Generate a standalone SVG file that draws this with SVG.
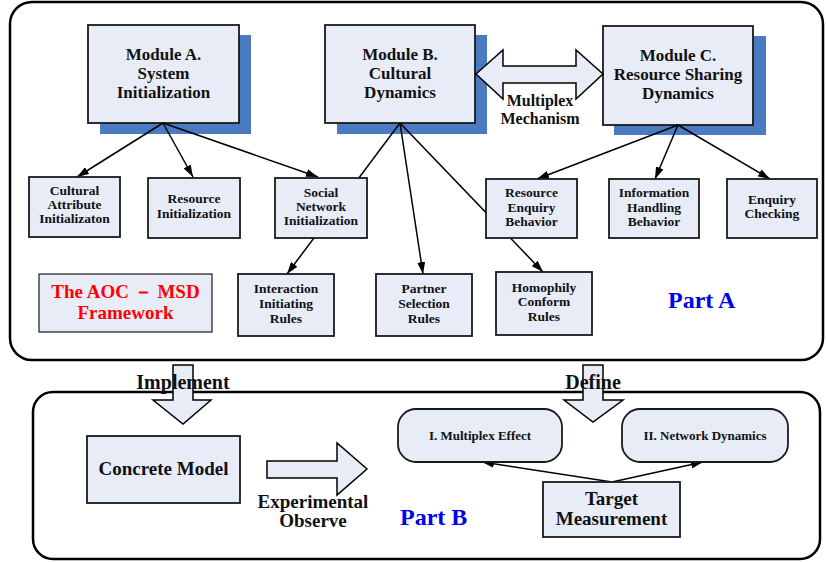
<svg xmlns="http://www.w3.org/2000/svg" width="826" height="562" viewBox="0 0 826 562">
<defs>
<marker id="ah" viewBox="0 0 12 8" refX="12" refY="4" markerWidth="12" markerHeight="8" markerUnits="userSpaceOnUse" orient="auto">
<path d="M0,0 L12,4 L0,8 z" fill="#000"/>
</marker>
</defs>
<style>
.frame{fill:#fff;stroke:#000;stroke-width:2.5}
.box{fill:#e7ecf7;stroke:#1a1a1a;stroke-width:1.8}
.shadow{fill:#4a7abf}
.blk{fill:#e7ecf7;stroke:#000;stroke-width:1.5;stroke-linejoin:miter}
.con{fill:none;stroke:#000;stroke-width:1.5}
text{font-family:'Liberation Serif','Times New Roman','DejaVu Serif',serif;font-weight:700;fill:#111;text-anchor:middle}
.mod{font-size:17px}
.sm{font-size:13.5px}
.md{font-size:19px}
.lab{font-size:20px}
.part{font-size:24px;fill:#0000ee;text-anchor:start}
.red{font-size:19px;fill:#ff0000}
</style>
<rect class="frame" x="10" y="2" width="813" height="358" rx="22"/>
<rect class="frame" x="33" y="392" width="787" height="167" rx="20"/>

<g id="moduleA">
<rect class="shadow" x="100" y="35" width="151" height="99"/>
<rect class="box" x="88" y="25" width="151" height="98"/>
<text class="mod" x="163.5" y="60">Module A.</text>
<text class="mod" x="163.5" y="79">System</text>
<text class="mod" x="163.5" y="98">Initialization</text>
</g>
<g id="moduleB">
<rect class="shadow" x="337" y="35" width="150" height="99"/>
<rect class="box" x="325" y="25" width="150" height="98"/>
<text class="mod" x="400" y="60">Module B.</text>
<text class="mod" x="400" y="79">Cultural</text>
<text class="mod" x="400" y="98">Dynamics</text>
</g>
<g id="moduleC">
<rect class="shadow" x="614" y="36" width="152" height="99"/>
<rect class="box" x="603" y="26" width="150" height="99"/>
<text class="mod" x="678" y="61">Module C.</text>
<text class="mod" x="678" y="80">Resource Sharing</text>
<text class="mod" x="678" y="99">Dynamics</text>
</g>
<g id="multiplex">
<polygon class="blk" points="476,74 503,50 503,66 576,66 576,50 603,74 576,99 576,83 503,83 503,99"/>
<text style="font-size:16px" x="540" y="106">Multiplex</text>
<text style="font-size:16px" x="540" y="124">Mechanism</text>
</g>

<g id="connectors">
<line class="con" x1="163" y1="123" x2="77" y2="177" marker-end="url(#ah)"/>
<line class="con" x1="163" y1="123" x2="193" y2="177" marker-end="url(#ah)"/>
<line class="con" x1="163" y1="123" x2="318" y2="177" marker-end="url(#ah)"/>
<line class="con" x1="400" y1="123" x2="287" y2="274" marker-end="url(#ah)"/>
<line class="con" x1="400" y1="123" x2="423" y2="274" marker-end="url(#ah)"/>
<line class="con" x1="400" y1="123" x2="543" y2="272" marker-end="url(#ah)"/>
<line class="con" x1="678" y1="125" x2="537" y2="179" marker-end="url(#ah)"/>
<line class="con" x1="678" y1="125" x2="655" y2="179" marker-end="url(#ah)"/>
<line class="con" x1="678" y1="125" x2="770" y2="179" marker-end="url(#ah)"/>
<line class="con" x1="612" y1="482" x2="482" y2="462" marker-end="url(#ah)"/>
<line class="con" x1="612" y1="482" x2="703" y2="462" marker-end="url(#ah)"/>
</g>

<g id="cultural">
<rect class="box" x="29" y="177" width="91" height="60"/>
<text class="sm" x="74.5" y="195">Cultural</text>
<text class="sm" x="74.5" y="209">Attribute</text>
<text class="sm" x="74.5" y="223">Initializaton</text>
</g>
<g id="resourceInit">
<rect class="box" x="148" y="178" width="92" height="60"/>
<text class="sm" x="194" y="203">Resource</text>
<text class="sm" x="194" y="218">Initialization</text>
</g>
<g id="socialNet">
<rect class="box" x="275" y="178" width="92" height="60"/>
<text class="sm" x="321" y="197">Social</text>
<text class="sm" x="321" y="211">Network</text>
<text class="sm" x="321" y="225">Initialization</text>
</g>
<g id="resEnquiry">
<rect class="box" x="486" y="179" width="91" height="59"/>
<text class="sm" x="531.5" y="197">Resource</text>
<text class="sm" x="531.5" y="212">Enquiry</text>
<text class="sm" x="531.5" y="226">Behavior</text>
</g>
<g id="infoHandling">
<rect class="box" x="609" y="179" width="90" height="59"/>
<text class="sm" x="654" y="197">Information</text>
<text class="sm" x="654" y="212">Handling</text>
<text class="sm" x="654" y="226">Behavior</text>
</g>
<g id="enquiryCheck">
<rect class="box" x="727" y="179" width="90" height="59"/>
<text class="sm" x="772" y="204">Enquiry</text>
<text class="sm" x="772" y="218">Checking</text>
</g>
<g id="framework">
<rect class="box" x="39" y="274" width="173" height="58" style="stroke-width:1.2"/>
<text class="red" x="125.5" y="298">The AOC  －  MSD</text>
<text class="red" x="125.5" y="319">Framework</text>
</g>
<g id="interaction">
<rect class="box" x="238" y="274" width="96" height="62"/>
<text class="sm" x="286" y="293">Interaction</text>
<text class="sm" x="286" y="308">Initiating</text>
<text class="sm" x="286" y="323">Rules</text>
</g>
<g id="partner">
<rect class="box" x="376" y="274" width="96" height="62"/>
<text class="sm" x="424" y="293">Partner</text>
<text class="sm" x="424" y="308">Selection</text>
<text class="sm" x="424" y="323">Rules</text>
</g>
<g id="homophily">
<rect class="box" x="496" y="272" width="96" height="63"/>
<text class="sm" x="544" y="292">Homophily</text>
<text class="sm" x="544" y="306">Conform</text>
<text class="sm" x="544" y="321">Rules</text>
</g>
<text class="part" x="668" y="308">Part A</text>

<g id="implement">
<polygon class="blk" points="173,365 193,365 193,400 211,400 183,424 153,400 173,400"/>
<text class="lab" x="183" y="389">Implement</text>
</g>
<g id="define">
<polygon class="blk" points="583,365 603,365 603,400 623,400 593,422 564,400 583,400"/>
<text class="lab" x="593" y="389">Define</text>
</g>
<g id="concrete">
<rect class="box" x="87" y="436" width="153" height="67"/>
<text class="md" x="163.5" y="475">Concrete Model</text>
</g>
<g id="observe">
<polygon class="blk" points="267,461 337,461 337,443 367,469 337,495 337,478 267,478"/>
<text class="md" x="313" y="508">Experimental</text>
<text class="md" x="313" y="527">Observe</text>
</g>
<text class="part" x="400" y="525">Part B</text>
<g id="multiplexEffect">
<rect class="box" x="398" y="409" width="164" height="53" rx="18"/>
<text style="font-size:13px" x="480" y="440">I. Multiplex Effect</text>
</g>
<g id="networkDynamics">
<rect class="box" x="622" y="409" width="166" height="53" rx="18"/>
<text style="font-size:13px" x="705" y="440">II. Network Dynamics</text>
</g>
<g id="target">
<rect class="box" x="543" y="482" width="137" height="55"/>
<text class="md" x="611.5" y="505">Target</text>
<text class="md" x="611.5" y="525">Measurement</text>
</g>
</svg>
